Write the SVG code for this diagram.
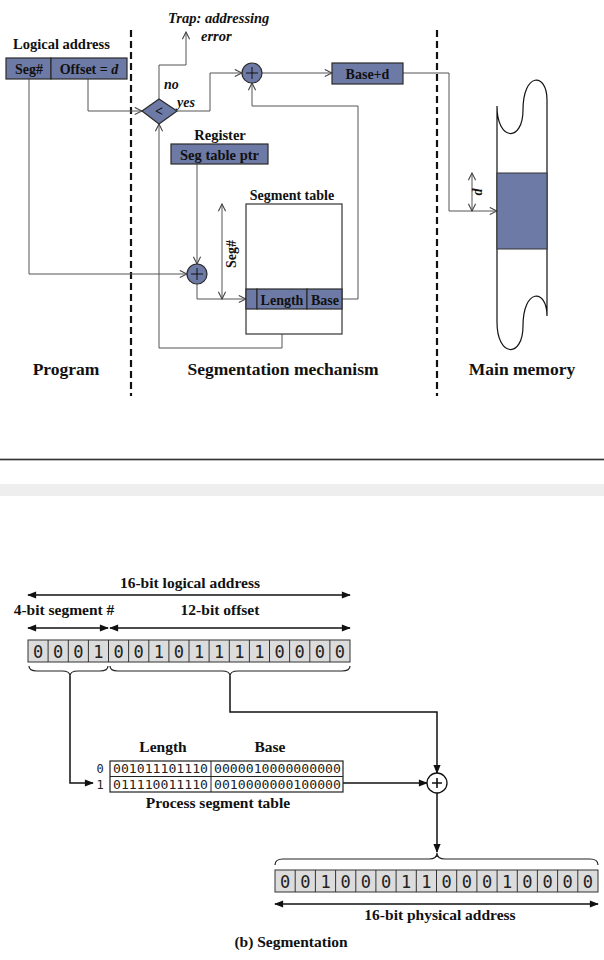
<svg xmlns="http://www.w3.org/2000/svg" width="604" height="960" viewBox="0 0 604 960">
<style>
.t{font-family:"Liberation Serif","Times New Roman",serif;font-weight:bold;fill:#111}
.ti{font-family:"Liberation Serif","Times New Roman",serif;font-weight:bold;font-style:italic;fill:#111}
.node{fill:#6e7aa6;stroke:#2a2a2a;stroke-width:1.2}
.conn{fill:none;stroke:#555;stroke-width:1}
.bconn{fill:none;stroke:#111;stroke-width:1.5}
.dash{stroke:#111;stroke-width:2.2;stroke-dasharray:7,4}
.mono{font-family:"DejaVu Sans Mono","Liberation Mono",monospace;fill:#222}
.cell{fill:#dcdcdc;stroke:#333;stroke-width:1}
.brace{fill:none;stroke:#222;stroke-width:1.2}
</style>
<defs>
<marker id="oa" viewBox="0 0 10 10" refX="9" refY="5" markerWidth="9" markerHeight="9" markerUnits="userSpaceOnUse" orient="auto-start-reverse">
<path d="M1,1 L9,5 L1,9" fill="none" stroke="#444" stroke-width="1.2"/>
</marker>
<marker id="fa" viewBox="0 0 10 10" refX="9" refY="5" markerWidth="10" markerHeight="9" markerUnits="userSpaceOnUse" orient="auto-start-reverse">
<path d="M0,1 L10,5 L0,9 z" fill="#111"/>
</marker>
</defs>
<rect width="604" height="960" fill="#fff"/>

<!-- dashed separators -->
<line class="dash" x1="131" y1="30" x2="131" y2="396"/>
<line class="dash" x1="437" y1="30" x2="437" y2="396"/>

<!-- connectors top -->
<g id="connectors-top">
<path class="conn" d="M88,79 V111 H142" marker-end="url(#oa)"/>
<path class="conn" d="M159,99 V65 H186 V32" marker-end="url(#oa)"/>
<path class="conn" d="M177,111 H210 V73 H242" marker-end="url(#oa)"/>
<path class="conn" d="M262,73 H332" marker-end="url(#oa)"/>
<path class="conn" d="M403,73 H449 V211 H497" marker-end="url(#oa)"/>
<path class="conn" d="M342,299 H358 V106 H252 V83" marker-end="url(#oa)"/>
<path class="conn" d="M29,79 V274 H187" marker-end="url(#oa)"/>
<path class="conn" d="M197,164 V264" marker-end="url(#oa)"/>
<path class="conn" d="M197,284 V299 H246" marker-end="url(#oa)"/>
<path class="conn" d="M282,309 V348 H159 V124" marker-end="url(#oa)"/>
<path class="conn" d="M222,204 V299" marker-start="url(#oa)" marker-end="url(#oa)"/>
<path class="conn" d="M472,173 V211" marker-start="url(#oa)" marker-end="url(#oa)"/>
</g>

<!-- top texts -->
<text class="ti" x="168" y="23" font-size="14.5">Trap: addressing</text>
<text class="ti" x="201" y="41" font-size="14.5">error</text>
<text class="ti" x="164" y="89" font-size="14">no</text>
<text class="ti" x="177" y="107" font-size="14">yes</text>

<g id="logical-address">
<text class="t" x="13" y="49" font-size="14.5">Logical address</text>
<rect class="node" x="6" y="58" width="45" height="21"/>
<rect class="node" x="51" y="58" width="76" height="21"/>
<text class="t" x="29" y="73.5" font-size="14" text-anchor="middle">Seg#</text>
<text class="t" x="89" y="73.5" font-size="14" text-anchor="middle">Offset = <tspan font-style="italic">d</tspan></text>
</g>

<g id="compare">
<polygon class="node" points="142,111 159,99 177,111 159,124"/>
<text class="t" x="159" y="116" font-size="14" text-anchor="middle" font-weight="normal">&lt;</text>
</g>

<g id="adder1">
<circle class="node" cx="252" cy="73" r="10"/>
<path d="M246,73 H258 M252,67 V79" stroke="#111" stroke-width="1"/>
</g>

<g id="base-d">
<rect class="node" x="332" y="63" width="71" height="21"/>
<text class="t" x="367.5" y="78.5" font-size="14" text-anchor="middle">Base+d</text>
</g>

<g id="register">
<text class="t" x="220" y="140" font-size="14.5" text-anchor="middle">Register</text>
<rect class="node" x="171" y="144" width="97" height="20"/>
<text class="t" x="219.5" y="159.5" font-size="14.5" text-anchor="middle">Seg table ptr</text>
</g>

<g id="adder2">
<circle class="node" cx="197" cy="274" r="10"/>
<path d="M191,274 H203 M197,268 V280" stroke="#111" stroke-width="1"/>
</g>

<text class="t" font-size="14" text-anchor="middle" transform="translate(236,254) rotate(-90)">Seg#</text>

<g id="segment-table">
<text class="t" x="292" y="200" font-size="14" text-anchor="middle">Segment table</text>
<rect x="246" y="204" width="96" height="130" fill="#fff" stroke="#333" stroke-width="1.2"/>
<rect class="node" x="246" y="289" width="11" height="20"/>
<rect class="node" x="257" y="289" width="50" height="20"/>
<rect class="node" x="307" y="289" width="35" height="20"/>
<text class="t" x="282" y="304.5" font-size="14" text-anchor="middle">Length</text>
<text class="t" x="325" y="304.5" font-size="14" text-anchor="middle">Base</text>
</g>

<g id="main-memory">
<path d="M497,106 C497,142 523,142 523,110 C523,72 547,72 547,100 V316 C547,288 523,288 523,326 C523,358 497,358 497,322 Z" fill="#fff" stroke="#111" stroke-width="1.2"/>
<rect x="497" y="173" width="50" height="76" fill="#6e7aa6" stroke="#333" stroke-width="1"/>
<text class="ti" font-size="14" text-anchor="middle" transform="translate(482,192) rotate(-90)">d</text>
</g>

<text class="t" x="66" y="375" font-size="17.5" text-anchor="middle">Program</text>
<text class="t" x="283" y="375" font-size="17.5" text-anchor="middle">Segmentation mechanism</text>
<text class="t" x="522" y="375" font-size="17.5" text-anchor="middle">Main memory</text>

<!-- page separator -->
<rect x="0" y="458" width="604" height="3" fill="#bbb"/>
<line x1="0" y1="459.5" x2="604" y2="459.5" stroke="#333" stroke-width="1"/>
<rect x="0" y="484" width="604" height="12" fill="#eeeeee"/>

<!-- bottom diagram -->
<g id="connectors-bottom">
<path class="bconn" d="M28,595 H350" marker-start="url(#fa)" marker-end="url(#fa)"/>
<path class="bconn" d="M28,628 H108" marker-start="url(#fa)" marker-end="url(#fa)"/>
<path class="bconn" d="M110,628 H350" marker-start="url(#fa)" marker-end="url(#fa)"/>
<path class="bconn" d="M70,676 V783 H93" marker-end="url(#fa)"/>
<path class="bconn" d="M230,676 V712 H437 V773" marker-end="url(#fa)"/>
<path class="bconn" d="M343,783 H427" marker-end="url(#fa)"/>
<path class="bconn" d="M437,793 V852" marker-end="url(#fa)"/>
<path class="bconn" d="M275,904 H598" marker-start="url(#fa)" marker-end="url(#fa)"/>
</g>

<text class="t" x="190" y="588" font-size="15.5" text-anchor="middle">16-bit logical address</text>
<text class="t" x="64" y="615" font-size="15.5" text-anchor="middle">4-bit segment #</text>
<text class="t" x="220" y="615" font-size="15.5" text-anchor="middle">12-bit offset</text>

<g id="logical-bits">
<rect class="cell" x="28" y="640" width="322" height="22"/>
<path d="M48.1,640V662M68.3,640V662M88.4,640V662M108.5,640V662M128.6,640V662M148.8,640V662M168.9,640V662M189,640V662M209.1,640V662M229.3,640V662M249.4,640V662M269.5,640V662M289.6,640V662M309.8,640V662M329.9,640V662" stroke="#333" stroke-width="1"/>
<text class="mono" font-size="17" text-anchor="middle" y="657.5" x="38.1 58.2 78.3 98.4 118.6 138.7 158.8 178.9 199.1 219.2 239.3 259.4 279.6 299.7 319.8 339.9">0001001011110000</text>
</g>

<path class="brace" d="M29,666 Q29,671 37,671 H62 Q70,671 70,676 Q70,671 78,671 H100 Q108,671 108,666"/>
<path class="brace" d="M110,666 Q110,671 118,671 H222 Q230,671 230,676 Q230,671 238,671 H342 Q350,671 350,666"/>

<g id="segment-table-b">
<text class="t" x="163" y="752" font-size="15.5" text-anchor="middle">Length</text>
<text class="t" x="270" y="752" font-size="15.5" text-anchor="middle">Base</text>
<text class="mono" x="100" y="773" font-size="12" text-anchor="middle">0</text>
<text class="mono" x="100" y="789" font-size="12" text-anchor="middle">1</text>
<rect x="110" y="761" width="233" height="31" fill="#fff" stroke="#222" stroke-width="1.2"/>
<line x1="110" y1="776.5" x2="343" y2="776.5" stroke="#222" stroke-width="1"/>
<line x1="211" y1="761" x2="211" y2="792" stroke="#222" stroke-width="1"/>
<text class="mono" x="113" y="773" font-size="12.5" textLength="95" lengthAdjust="spacingAndGlyphs">001011101110</text>
<text class="mono" x="214" y="773" font-size="12.5" textLength="127" lengthAdjust="spacingAndGlyphs">0000010000000000</text>
<text class="mono" x="113" y="789" font-size="12.5" textLength="95" lengthAdjust="spacingAndGlyphs">011110011110</text>
<text class="mono" x="214" y="789" font-size="12.5" textLength="127" lengthAdjust="spacingAndGlyphs">0010000000100000</text>
<text class="t" x="218" y="808" font-size="15.5" text-anchor="middle">Process segment table</text>
</g>

<g id="adder-b">
<circle cx="437" cy="783" r="10" fill="#fff" stroke="#111" stroke-width="1.3"/>
<path d="M432,783 H442 M437,778 V788" stroke="#111" stroke-width="1.6"/>
</g>

<path class="brace" d="M275,865 Q275,859 283,859 H429 Q437,859 437,853 Q437,859 445,859 H590 Q598,859 598,865"/>

<g id="physical-bits">
<rect class="cell" x="275" y="870" width="323" height="22"/>
<path d="M295.2,870V892M315.4,870V892M335.6,870V892M355.8,870V892M375.9,870V892M396.1,870V892M416.3,870V892M436.5,870V892M456.7,870V892M476.9,870V892M497.1,870V892M517.3,870V892M537.4,870V892M557.6,870V892M577.8,870V892" stroke="#333" stroke-width="1"/>
<text class="mono" font-size="17" text-anchor="middle" y="887.5" x="285.1 305.3 325.5 345.7 365.9 386 406.2 426.4 446.6 466.8 487 507.2 527.4 547.5 567.7 587.9">0010001100010000</text>
</g>

<text class="t" x="440" y="920" font-size="15.5" text-anchor="middle">16-bit physical address</text>
<text class="t" x="291" y="947" font-size="15.5" text-anchor="middle">(b) Segmentation</text>
</svg>
